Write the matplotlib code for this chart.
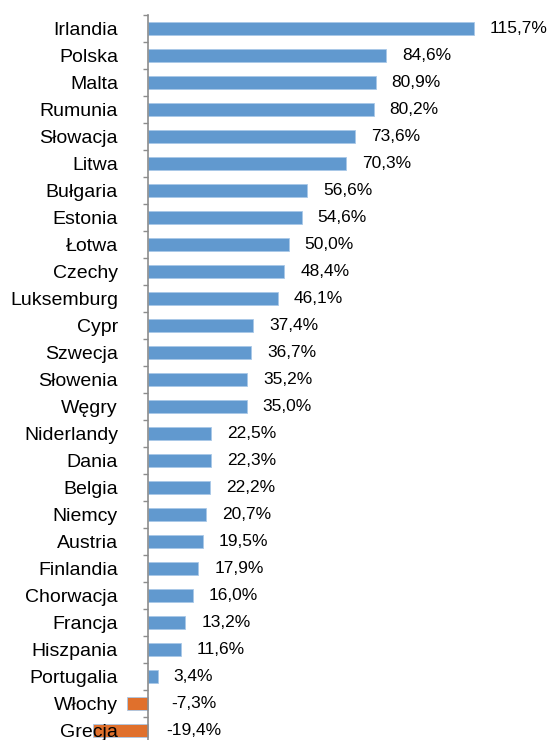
import numpy as np
from matplotlib import pyplot as plt

plt.rcParams['font.family'] = ['Liberation Sans', 'DejaVu Sans']

# kraje i zmiana w %
kraje = ["Irlandia", "Polska", "Malta", "Rumunia", "Słowacja", "Litwa", "Bułgaria",
         "Estonia", "Łotwa", "Czechy", "Luksemburg", "Cypr", "Szwecja", "Słowenia",
         "Węgry", "Niderlandy", "Dania", "Belgia", "Niemcy", "Austria", "Finlandia",
         "Chorwacja", "Francja", "Hiszpania", "Portugalia", "Włochy", "Grecja"]
zmiana = [115.7, 84.6, 80.9, 80.2, 73.6, 70.3, 56.6, 54.6, 50.0, 48.4, 46.1, 37.4,
          36.7, 35.2, 35.0, 22.5, 22.3, 22.2, 20.7, 19.5, 17.9, 16.0, 13.2, 11.6,
          3.4, -7.3, -19.4]

BLUE = "#6199cf"
ORANGE = "#e0702c"

fig = plt.figure(figsize=(5.51, 7.40), dpi=100)
ax = fig.add_axes([0.0, -4 / 740, 1.0, 729 / 740])
ax.patch.set_visible(False)

y = np.arange(len(kraje))
kolory = [BLUE if v >= 0 else ORANGE for v in zmiana]
ax.barh(y, zmiana, height=0.45, color=kolory, edgecolor="#a9c8e8", linewidth=0.6)

for i, v in enumerate(zmiana):
    txt = f"{v:.1f}%".replace(".", ",")
    if v >= 0:
        ax.annotate(txt, xy=(v, i), xytext=(11.5, 0), textcoords="offset points",
                    ha="left", va="center", fontsize=12.5)
    else:
        ax.annotate(txt, xy=(0, i), xytext=(33, 0), textcoords="offset points",
                    ha="center", va="center", fontsize=12.5)

ax.set_xlim(-148 / 2.815, 403 / 2.815)
ax.set_ylim(len(kraje) - 0.5, -0.5)

for s in ["top", "right", "bottom"]:
    ax.spines[s].set_visible(False)
ax.spines["left"].set_position(("data", 0))
ax.spines["left"].set_color("#8c8c8c")
ax.spines["left"].set_linewidth(1.2)

ax.set_xticks([])
ax.set_yticks(np.arange(len(kraje) + 1) - 0.5)
ax.set_yticklabels([])
ax.set_yticks(y, minor=True)
ax.set_yticklabels(kraje, minor=True, fontsize=14)
ax.tick_params(axis="y", which="major", direction="out", length=3.6, width=1, color="#8c8c8c")
ax.tick_params(axis="y", which="minor", length=0, pad=21.6)

plt.savefig("out.png", dpi=100)
